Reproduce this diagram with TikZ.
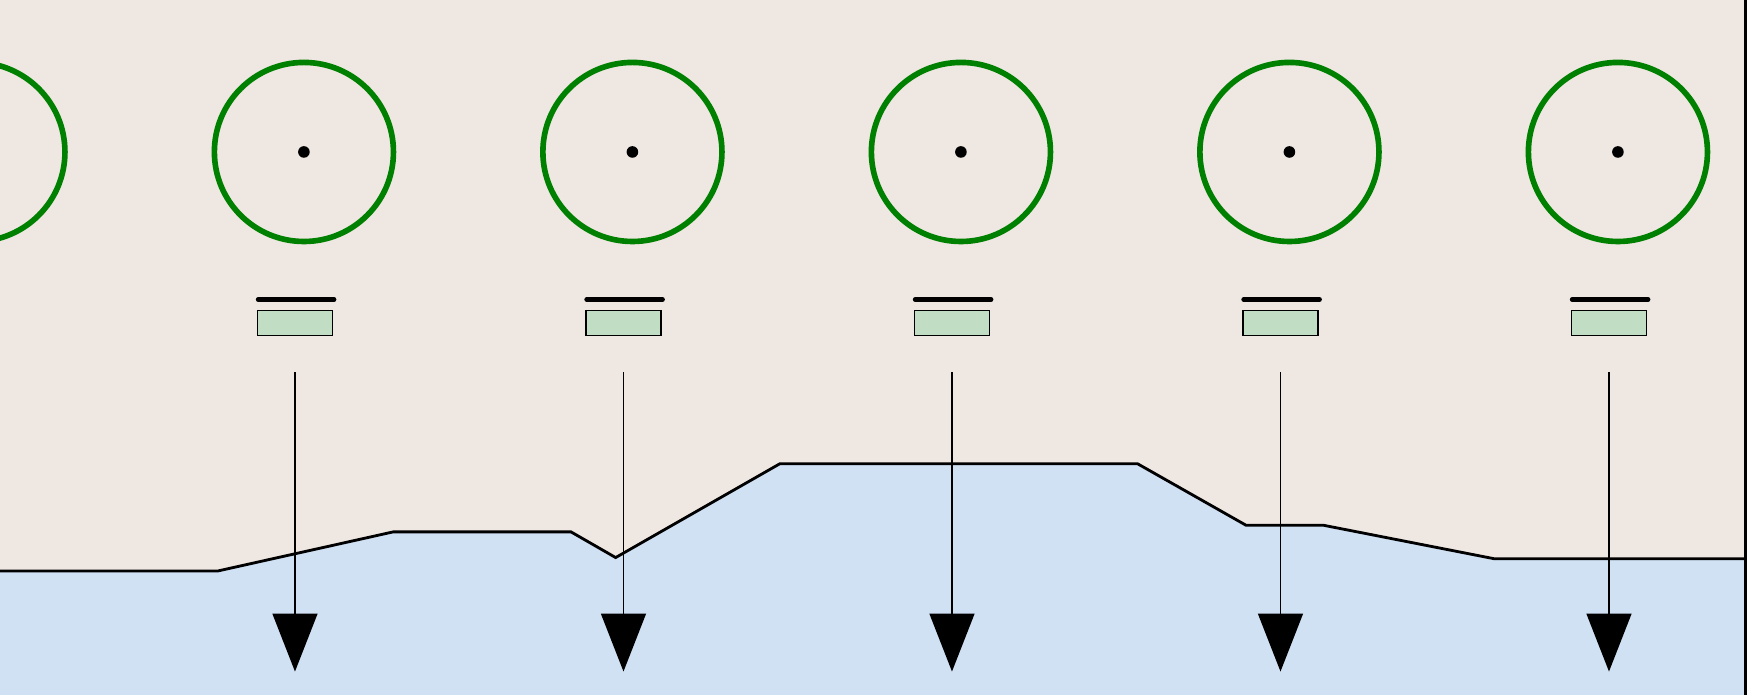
\documentclass[tikz,border=0pt]{standalone}
\usepackage{tikz}
\usetikzlibrary{arrows.meta}
\definecolor{sand}{RGB}{239,231,225}
\definecolor{water}{RGB}{208,225,244}
\definecolor{leaf}{RGB}{0,128,0}
\definecolor{mint}{RGB}{193,221,196}
\tikzset{
  wheel/.style = {circle, draw=leaf, line width=1.6pt, minimum size=1.79cm, inner sep=0pt},
  pad/.style = {rectangle, draw=black, fill=mint, line width=0.45pt, minimum width=0.75cm, minimum height=0.25cm, inner sep=0pt},
  drop/.style = {line width=0.45pt, -{Triangle[width=0.45cm,length=0.58cm]}}
}
\begin{document}
\begin{tikzpicture}[x=0.011173cm,y=-0.011173cm]
\useasboundingbox (0,0) rectangle (1568,622);
\fill[sand] (0,0) rectangle (1562,622);
\fill[water] (0,622) -- (0,511) -- (195,511) -- (352,476) -- (511,476) -- (551,499) -- (698,415)
  -- (1018,415) -- (1115,470) -- (1184,470) -- (1337,500) -- (1562,500) -- (1562,622) -- cycle;
\draw[line width=0.8pt] (0,511) -- (195,511) -- (352,476) -- (511,476) -- (551,499) -- (698,415)
  -- (1018,415) -- (1115,470) -- (1184,470) -- (1337,500) -- (1562,500);
\draw[line width=0.8pt] (1562,0) -- (1562,622);
% partial wheel at the left edge
\node (w0) [wheel] at (-22,136) {};
\foreach \i/\x in {1/272,2/566,3/860,4/1154,5/1448} {
  \node (w\i) [wheel] at (\x,136) {};
  \fill (\x,136) circle (0.058cm);
  \draw[line width=1.3pt, line cap=round] (\x-41,268) -- (\x+27,268);
  \node (p\i) [pad] at (\x-8,289) {};
  \coordinate (top\i) at (\x-8,333);
  \coordinate (bot\i) at (\x-8,601);
  \draw[drop] (top\i) -- (bot\i);
}
\end{tikzpicture}
\end{document}
